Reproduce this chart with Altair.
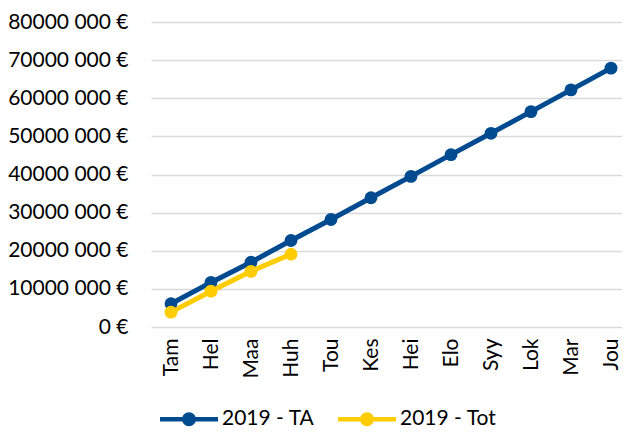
import altair as alt
import pandas as pd

months = ["Tam", "Hel", "Maa", "Huh", "Tou", "Kes", "Hei", "Elo", "Syy", "Lok", "Mar", "Jou"]
ta_values = [6.1e6, 11.7e6, 17.0e6, 22.7e6, 28.2e6, 33.9e6, 39.5e6, 45.2e6, 50.8e6, 56.5e6, 62.2e6, 67.9e6]
tot_values = [3.9e6, 9.4e6, 14.6e6, 19.1e6]
series_names = ["2019 - TA", "2019 - Tot"]
colors = ["#004A8F", "#FFCC00"]
y_ticks = [0, 10e6, 20e6, 30e6, 40e6, 50e6, 60e6, 70e6, 80e6]

rows = []
for m, v in zip(months, ta_values):
    rows.append({"month": m, "value": v, "series": series_names[0]})
for m, v in zip(months, tot_values):
    rows.append({"month": m, "value": v, "series": series_names[1]})
df = pd.DataFrame(rows)

FONT = "Lato"
FS = 21

x = alt.X("month:N", sort=months, title=None,
          scale=alt.Scale(paddingInner=0, paddingOuter=0.5, range=[0, 480]),
          axis=alt.Axis(labelAngle=-90, labelFontSize=FS, labelFont=FONT, labelColor="#000",
                        ticks=False, domain=False, labelPadding=11, labelBaseline="middle",
                        labelAlign="right"))
y = alt.Y("value:Q", title=None,
          scale=alt.Scale(domain=[0, 80e6], nice=False),
          axis=alt.Axis(values=y_ticks, labelFontSize=FS, labelFont=FONT, labelColor="#000",
                        ticks=False, domain=False, labelPadding=23,
                        gridColor="#D9D9D9", gridWidth=1.5,
                        labelExpr="datum.value == 0 ? '0 €' : format(datum.value/1000, 'd') + ' 000 €'"))
color = alt.Color("series:N", sort=series_names,
                  scale=alt.Scale(domain=series_names, range=colors),
                  legend=alt.Legend(title=None, orient="none", direction="horizontal",
                                    legendX=23.5, legendY=382.5,
                                    labelFont=FONT, labelFontSize=FS, labelColor="#000",
                                    symbolType="M-2,-0.155L2,-0.155L2,0.155L-2,0.155Z M0.48,0A0.48,0.48 0 1,1 -0.48,0A0.48,0.48 0 1,1 0.48,0Z",
                                    symbolSize=841, symbolStrokeWidth=0, symbolOffset=0,
                                    labelOffset=18.5, columnPadding=23))

base = alt.Chart(df)
line = base.mark_line(strokeWidth=5).encode(x=x, y=y, color=color)
pts = base.mark_point(filled=True, size=165, opacity=1).encode(x=x, y=y, color=color)

chart = alt.layer(line, pts).properties(
    width=471, height=305,
    autosize=alt.AutoSizeParams(type="none"),
    padding={"top": 14, "left": 143, "right": 0, "bottom": 105},
).configure_view(stroke=None)
chart.save("out.html", embed_options={"renderer": "svg", "actions": False})
